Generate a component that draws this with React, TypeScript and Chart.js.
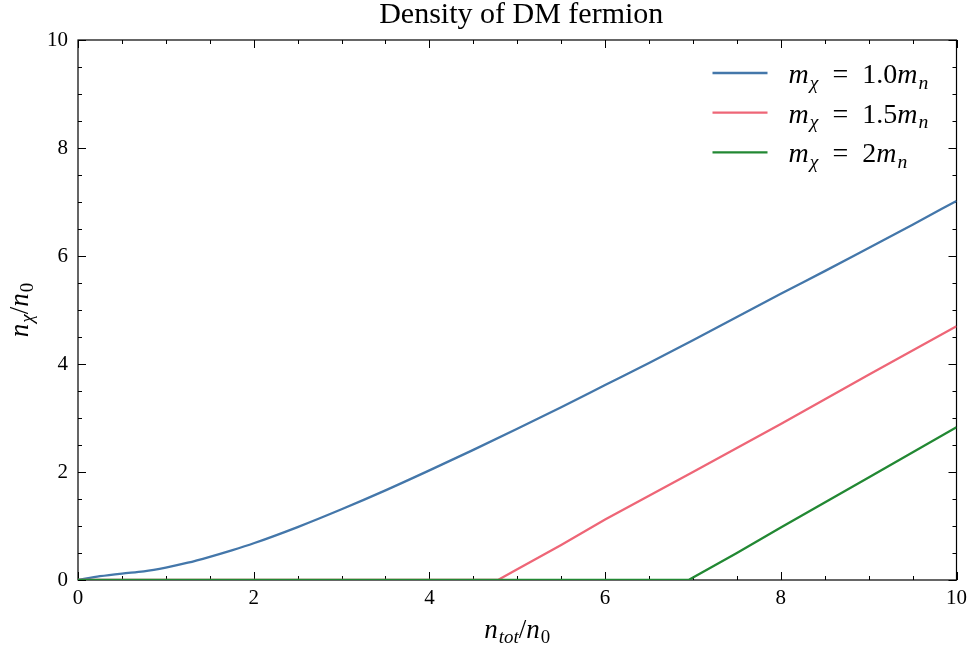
import React, { useEffect, useRef } from "react";
import { Chart, registerables } from "chart.js";

Chart.register(...registerables);

// ---- data ----
const blueX = [0, 0.25, 0.5, 0.75, 1, 1.25, 1.5, 1.75, 2, 2.5, 3, 3.5, 4, 4.5, 5, 5.5, 6, 6.5, 7, 7.5, 8, 8.5, 9, 9.5, 10];
const blueY = [0, 0.07, 0.12, 0.16, 0.23, 0.32, 0.43, 0.55, 0.68, 0.98, 1.31, 1.66, 2.03, 2.41, 2.8, 3.2, 3.61, 4.02, 4.44, 4.87, 5.3, 5.72, 6.15, 6.58, 7.02];
const redX = [0, 4.78, 5, 5.5, 6, 7, 8, 9, 10];
const redY = [0, 0, 0.2, 0.65, 1.12, 2.0, 2.89, 3.8, 4.7];
const greenX = [0, 6.95, 7.5, 8, 9, 10];
const greenY = [0, 0, 0.5, 0.97, 1.9, 2.83];

const xMin = 0, xMax = 10, xStep = 2, xMinor = 0.5;
const yMin = 0, yMax = 10, yStep = 2, yMinor = 0.5;

const titleText = "Density of DM fermion";
type Seg = [string, string];
const xTitle: Seg[] = [["n", "i"], ["tot", "si"], ["/", "r"], ["n", "i"], ["0", "sr"]];
const yTitle: Seg[] = [["n", "i"], ["\u03C7", "si"], ["/", "r"], ["n", "i"], ["0", "sr"]];
const legendLabels: Seg[][] = [
  [["m", "i"], ["\u03C7", "si"], [" = 1.0", "r"], ["m", "i"], ["n", "si"]],
  [["m", "i"], ["\u03C7", "si"], [" = 1.5", "r"], ["m", "i"], ["n", "si"]],
  [["m", "i"], ["\u03C7", "si"], [" = 2", "r"], ["m", "i"], ["n", "si"]],
];
const colors = ["#4477AA", "#EE6677", "#228833"];

const FAM = '"Liberation Serif", "Times New Roman", serif';

function fontFor(st: string, size: number) {
  const s = st.startsWith("s") ? size * 0.7 : size;
  return `${st.includes("i") ? "italic " : ""}${s}px ${FAM}`;
}

function drawMath(ctx: CanvasRenderingContext2D, segs: Seg[], x: number, y: number, size: number, align: "left" | "center") {
  ctx.save();
  ctx.textBaseline = "alphabetic";
  ctx.textAlign = "left";
  let w = 0;
  const widths: number[] = [];
  const fix = (t: string) => t.replace(" = ", "  =  ");
  for (const [t, st] of segs) {
    ctx.font = fontFor(st, size);
    const m = ctx.measureText(fix(t)).width + (st.includes("i") && !st.startsWith("s") ? size * 0.04 : 0);
    widths.push(m);
    w += m;
  }
  let cx = align === "center" ? x - w / 2 : x;
  segs.forEach(([t, st], i) => {
    ctx.font = fontFor(st, size);
    const dy = st.startsWith("s") ? size * 0.2 : 0;
    ctx.fillText(fix(t), cx, y + dy);
    cx += widths[i];
  });
  ctx.restore();
}

const decor = {
  id: "decor",
  beforeDatasetsDraw(chart: any) {
    const { ctx, chartArea: a, scales } = chart;
    const xs = scales.x, ys = scales.y;
    ctx.save();
    ctx.strokeStyle = "#000";
    ctx.lineWidth = 1;
    for (let v = xMin; v <= xMax + 1e-9; v += xMinor) {
      const p = Math.round(xs.getPixelForValue(v)) + 0.5;
      const len = Math.abs(v / xStep - Math.round(v / xStep)) < 1e-6 ? 8 : 4;
      ctx.beginPath();
      ctx.moveTo(p, a.bottom); ctx.lineTo(p, a.bottom - len);
      ctx.moveTo(p, a.top); ctx.lineTo(p, a.top + len);
      ctx.stroke();
    }
    for (let v = yMin; v <= yMax + 1e-9; v += yMinor) {
      const p = Math.round(ys.getPixelForValue(v)) + 0.5;
      const len = Math.abs(v / yStep - Math.round(v / yStep)) < 1e-6 ? 8 : 4;
      ctx.beginPath();
      ctx.moveTo(a.left, p); ctx.lineTo(a.left + len, p);
      ctx.moveTo(a.right, p); ctx.lineTo(a.right - len, p);
      ctx.stroke();
    }
    ctx.lineWidth = 1.2;
    ctx.strokeRect(a.left, a.top, a.right - a.left, a.bottom - a.top);
    ctx.restore();
  },
  afterDraw(chart: any) {
    const { ctx, chartArea: a } = chart;
    ctx.save();
    ctx.fillStyle = "#000";
    // title
    ctx.font = `30px ${FAM}`;
    ctx.textAlign = "center";
    ctx.textBaseline = "alphabetic";
    ctx.fillText(titleText, (a.left + a.right) / 2 + 4, 23);
    // x title
    drawMath(ctx, xTitle, (a.left + a.right) / 2, 638, 27, "center");
    // y title
    ctx.save();
    ctx.translate(28, (a.top + a.bottom) / 2);
    ctx.rotate(-Math.PI / 2);
    drawMath(ctx, yTitle, 0, 0, 27, "center");
    ctx.restore();
    // legend
    legendLabels.forEach((lab, i) => {
      const ly = a.top + 33 + i * 39.7;
      ctx.strokeStyle = colors[i];
      ctx.lineWidth = 2.3;
      ctx.beginPath();
      ctx.moveTo(a.right - 244, ly);
      ctx.lineTo(a.right - 189, ly);
      ctx.stroke();
      drawMath(ctx, lab, a.right - 168, ly + 10, 28, "left");
    });
    ctx.restore();
  },
};

export default function App() {
  const ref = useRef<HTMLCanvasElement>(null);
  useEffect(() => {
    const mk = (xs: number[], ys: number[]) => xs.map((x, i) => ({ x, y: ys[i] }));
    const tickFont = { family: FAM, size: 21 };
    const chart = new Chart(ref.current as HTMLCanvasElement, {
      type: "line",
      data: {
        datasets: [
          { label: "1.0", data: mk(blueX, blueY), borderColor: colors[0], borderWidth: 2.3, pointRadius: 0, tension: 0, cubicInterpolationMode: "monotone", order: 2, clip: 0 },
          { label: "1.5", data: mk(redX, redY), borderColor: colors[1], borderWidth: 2.3, pointRadius: 0, tension: 0, order: 1, clip: 0 },
          { label: "2", data: mk(greenX, greenY), borderColor: colors[2], borderWidth: 2.3, pointRadius: 0, tension: 0, order: 0, clip: 0 },
        ],
      } as any,
      options: {
        animation: false,
        responsive: true,
        maintainAspectRatio: false,
        layout: { padding: { top: 40, right: 16, left: 0, bottom: 0 } },
        plugins: { legend: { display: false }, tooltip: { enabled: false }, title: { display: false } },
        scales: {
          x: {
            type: "linear", min: xMin, max: xMax,
            ticks: { stepSize: xStep, font: tickFont, color: "#000", padding: 6, maxRotation: 0 },
            grid: { display: false, drawTicks: false, tickLength: 0 },
            border: { display: false },
            afterFit: (s: any) => { s.height = 73; },
          },
          y: {
            type: "linear", min: yMin, max: yMax,
            ticks: { stepSize: yStep, font: tickFont, color: "#000", padding: 10 },
            grid: { display: false, drawTicks: false, tickLength: 0 },
            border: { display: false },
            afterFit: (s: any) => { s.width = 78; },
          },
        },
      } as any,
      plugins: [decor],
    });
    return () => chart.destroy();
  }, []);
  return (
    <div style={{ position: "fixed", left: 0, top: 0, width: 973, height: 653 }}>
      <canvas ref={ref} />
    </div>
  );
}
